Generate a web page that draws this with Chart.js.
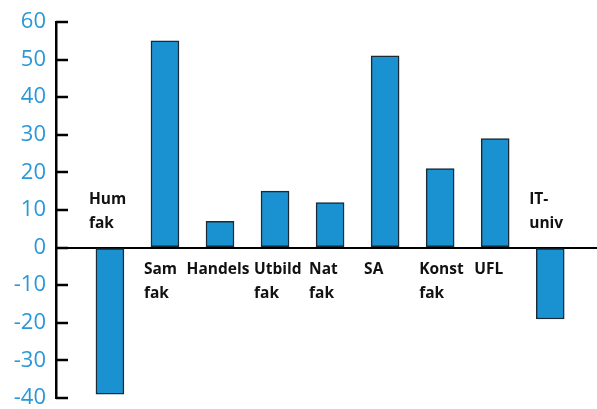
<!DOCTYPE html>
<html>
<head>
<meta charset="utf-8">
<script src="https://cdn.jsdelivr.net/npm/chart.js@4.4.0/dist/chart.umd.min.js"></script>
<style>
  html, body { margin: 0; padding: 0; background: #fff; }
  #wrap { width: 597px; height: 409px; }
</style>
</head>
<body>
<div id="wrap"><canvas id="chart"></canvas></div>
<script>
const categories = [['Hum', 'fak'], ['Sam', 'fak'], ['Handels'], ['Utbild', 'fak'], ['Nat', 'fak'], ['SA'], ['Konst', 'fak'], ['UFL'], ['IT-', 'univ']]
const values = [-39, 55, 7, 15, 12, 51, 21, 29, -19]
const yTicks = [60, 50, 40, 30, 20, 10, 0, -10, -20, -30, -40]

const blue = '#1a91d0'
const tickBlue = '#2a98d6'

// tick marks drawn inward from the y axis + category labels next to the zero line
const extras = {
    id: 'extras',
    afterDatasetsDraw(chart) {
        const ctx = chart.ctx
        const y = chart.scales.y
        const x = chart.scales.x
        const left = chart.chartArea.left
        ctx.save()
        ctx.strokeStyle = '#000'
        ctx.lineWidth = 2.5
        yTicks.forEach(t => {
            const py = Math.round(y.getPixelForValue(t))
            ctx.beginPath()
            ctx.moveTo(left, py)
            ctx.lineTo(left + 12, py)
            ctx.stroke()
        })
        const zero = y.getPixelForValue(0)
        ctx.font = 'bold 15.5px "Open Sans"'
        ctx.fillStyle = '#111'
        ctx.textBaseline = 'middle'
        ctx.textAlign = 'left'
        categories.forEach((lines, i) => {
            const cx = x.getPixelForValue(i)
            const w = Math.max(...lines.map(l => ctx.measureText(l).width))
            const sx = w > 56 ? cx - w / 2 - 2 : cx - 21
            lines.forEach((l, k) => {
                let py
                if (values[i] >= 0) py = zero + 22 + k * 24
                else py = zero - 48 + k * 24
                ctx.fillText(l, sx, py)
            })
        })
        ctx.restore()
    }
}

new Chart(document.getElementById('chart'), {
    type: 'bar',
    data: {
        datasets: [{
            data: values.map((v, i) => ({ x: i, y: v })),
            backgroundColor: blue,
            borderColor: '#1b2a35',
            borderWidth: 1.5,
            borderSkipped: false,
            barThickness: 28
        }]
    },
    options: {
        responsive: true,
        maintainAspectRatio: false,
        animation: false,
        layout: { padding: { top: 22, bottom: 11, left: 0, right: 0 } },
        plugins: {
            legend: { display: false },
            tooltip: { enabled: false }
        },
        scales: {
            x: {
                type: 'linear',
                offset: false,
                min: -0.98,
                max: 8.85,
                display: false
            },
            y: {
                min: -40,
                max: 60,
                afterFit: (s) => { s.width = 56; s.paddingTop = 0; s.paddingBottom = 0 },
                afterBuildTicks: (s) => { s.ticks = yTicks.map(v => ({ value: v })) },
                border: { display: true, color: '#000', width: 2.5 },
                grid: {
                    drawTicks: false,
                    color: (c) => c.tick && c.tick.value === 0 ? '#000' : 'rgba(0,0,0,0)',
                    lineWidth: 2
                },
                ticks: {
                    color: tickBlue,
                    padding: 10,
                    font: { family: 'Open Sans', size: 22 }
                }
            }
        }
    },
    plugins: [extras]
})
</script>
</body>
</html>
